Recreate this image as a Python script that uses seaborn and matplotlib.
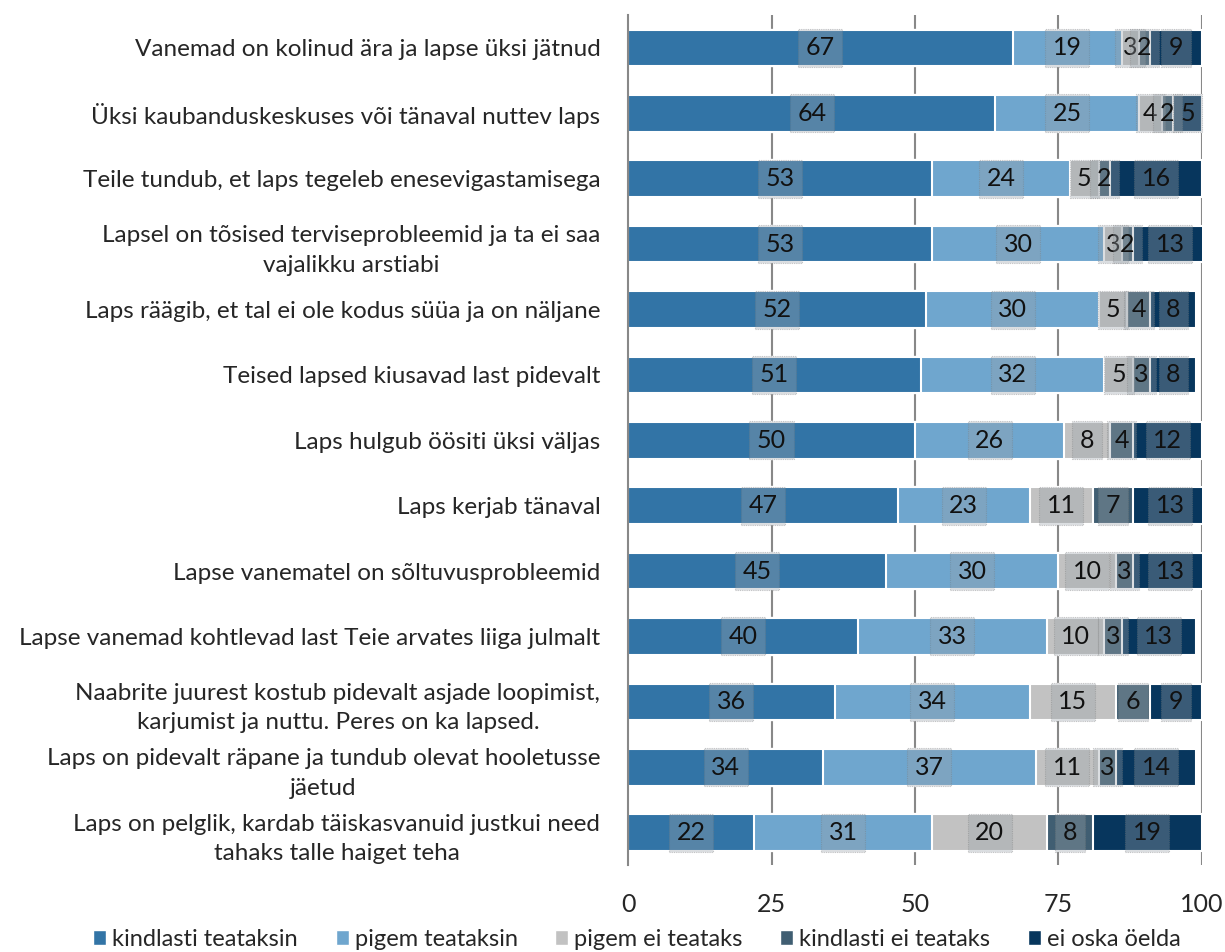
import matplotlib
matplotlib.use("Agg")
import matplotlib.pyplot as plt
import seaborn as sns
import numpy as np
import pandas as pd
from matplotlib.patches import Patch

categories = [
    "Vanemad on kolinud ära ja lapse üksi jätnud",
    "Üksi kaubanduskeskuses või tänaval nuttev laps",
    "Teile tundub, et laps tegeleb enesevigastamisega",
    "Lapsel on tõsised terviseprobleemid ja ta ei saa\nvajalikku arstiabi",
    "Laps räägib, et tal ei ole kodus süüa ja on näljane",
    "Teised lapsed kiusavad last pidevalt",
    "Laps hulgub öösiti üksi väljas",
    "Laps kerjab tänaval",
    "Lapse vanematel on sõltuvusprobleemid",
    "Lapse vanemad kohtlevad last Teie arvates liiga julmalt",
    "Naabrite juurest kostub pidevalt asjade loopimist,\nkarjumist ja nuttu. Peres on ka lapsed.",
    "Laps on pidevalt räpane ja tundub olevat hooletusse\njäetud",
    "Laps on pelglik, kardab täiskasvanuid justkui need\ntahaks talle haiget teha",
]
series_names = ["kindlasti teataksin", "pigem teataksin", "pigem ei teataks",
                "kindlasti ei teataks", "ei oska öelda"]
kindlasti_teataksin = [67, 64, 53, 53, 52, 51, 50, 47, 45, 40, 36, 34, 22]
pigem_teataksin = [19, 25, 24, 30, 30, 32, 26, 23, 30, 33, 34, 37, 31]
pigem_ei_teataks = [3, 4, 5, 3, 5, 5, 8, 11, 10, 10, 15, 11, 20]
kindlasti_ei_teataks = [2, 2, 2, 2, 4, 3, 4, 7, 3, 3, 6, 3, 8]
ei_oska_oelda = [9, 5, 16, 13, 8, 8, 12, 13, 13, 13, 9, 14, 19]
xticks = [0, 25, 50, 75, 100]

colors = ["#3274A6", "#6FA6CE", "#C2C2C2", "#405E72", "#07365D"]

sns.set_style("white")
plt.rcParams['font.family'] = ['Lato', 'DejaVu Sans']
FS = 17.5

fig = plt.figure(figsize=(12.25, 9.52), dpi=100)
ax = fig.add_axes([0.5127, 0.091, 0.4685, 0.893])

vals = np.array([kindlasti_teataksin, pigem_teataksin, pigem_ei_teataks,
                 kindlasti_ei_teataks, ei_oska_oelda], dtype=float)
cums = np.cumsum(vals, axis=0)
starts = cums - vals

for k in range(4, -1, -1):
    df = pd.DataFrame({"cat": categories, "val": cums[k]})
    sns.barplot(data=df, x="val", y="cat", orient="h", color=colors[k],
                saturation=1, width=0.56, edgecolor="white", linewidth=1.5,
                ax=ax, zorder=2 + (4 - k) * 0.01)

for k in range(5):
    for i in range(len(categories)):
        v = vals[k, i]
        cx = starts[k, i] + v / 2
        ax.text(cx, i, f"{int(v)}", ha="center", va="center", fontsize=18,
                color="#111111", zorder=5,
                bbox=dict(boxstyle="square,pad=0.3", facecolor="#9aa3aa",
                          alpha=0.35, edgecolor="#777777", linestyle=(0, (1, 1)),
                          linewidth=0.8))

ax.set_xlim(0, 100)
ax.set_ylim(12.5, -0.5)
ax.set_xticks(xticks)
ax.set_xticklabels([str(t) for t in xticks], fontsize=18)
ax.set_xlabel("")
ax.set_ylabel("")
ax.tick_params(axis="x", length=0, pad=20)
ax.tick_params(axis="y", which="major", length=0, pad=20, labelsize=FS)
ax.set_yticks(np.arange(-0.5, 13, 1), minor=True)
ax.tick_params(axis="y", which="minor", length=10, color="#888888", width=1.5)
for t in ax.get_yticklabels():
    t.set_ha("right")
    t.set_multialignment("center")
    t.set_linespacing(1.5)

for xv in xticks[1:]:
    ax.axvline(xv, color="#888888", linewidth=1.5, zorder=1)

for s in ["top", "right", "bottom"]:
    ax.spines[s].set_visible(False)
ax.spines["left"].set_color("#888888")
ax.spines["left"].set_linewidth(1.5)

handles = [Patch(facecolor=c, edgecolor="white") for c in colors]
fig.legend(handles, series_names, loc="lower center", ncol=5, frameon=False,
           fontsize=17, bbox_to_anchor=(0.52, -0.02), handlelength=0.55,
           handleheight=0.55, handletextpad=0.25, columnspacing=1.6)

fig.savefig("out.png", dpi=100)
